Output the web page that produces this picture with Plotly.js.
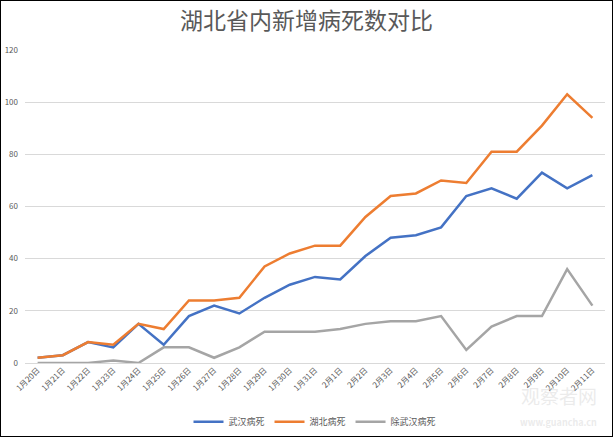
<!DOCTYPE html>
<html>
<head>
<meta charset="utf-8">
<script src="https://cdn.plot.ly/plotly-3.0.1.min.js"></script>
<style>
html,body{margin:0;padding:0;background:#fff;}
#chart{width:611px;height:435px;border:1px solid #000;}
</style>
</head>
<body>
<div id="chart"></div>
<script>
const categories = ["1月20日","1月21日","1月22日","1月23日","1月24日","1月25日","1月26日","1月27日","1月28日","1月29日","1月30日","1月31日","2月1日","2月2日","2月3日","2月4日","2月5日","2月6日","2月7日","2月8日","2月9日","2月10日","2月11日"];
const wuhan = [2,3,8,6,15,7,18,22,19,25,30,33,32,41,48,49,52,64,67,63,73,67,72];
const hubei = [2,3,8,7,15,13,24,24,25,37,42,45,45,56,64,65,70,69,81,81,91,103,94];
const outsideWuhan = [0,0,0,1,0,6,6,2,6,12,12,12,13,15,16,16,18,5,14,18,18,36,22];
const seriesNames = ["武汉病死","湖北病死","除武汉病死"];
const colors = ["#4472C4","#ED7D31","#A5A5A5"];

const font = "Noto Sans CJK SC, sans-serif";
const data = [wuhan, hubei, outsideWuhan].map((ys, i) => ({
  x: categories, y: ys, type: "scatter", mode: "lines",
  name: seriesNames[i], line: {color: colors[i], width: 2.5}
}));

const layout = {
  width: 611, height: 435,
  margin: {l: 24, r: 7, t: 49, b: 73},
  paper_bgcolor: "#fff", plot_bgcolor: "#fff",
  font: {family: font, color: "#595959", size: 9},
  title: {text: "湖北省内新增病死数对比", font: {family: font, size: 23, color: "#595959"},
          x: 0.5, xanchor: "center", y: 0.955, yanchor: "middle", yref: "container"},
  xaxis: {type: "category", range: [-0.5, 22.5], tickangle: -45, showgrid: false,
          zeroline: false, showline: false, ticks: "", tickfont: {size: 8, color: "#595959"}},
  yaxis: {range: [0, 120], dtick: 20, showgrid: true, gridcolor: "#d9d9d9", gridwidth: 1,
          zeroline: true, zerolinecolor: "#d9d9d9", zerolinewidth: 1, showline: false,
          ticks: "", ticklabelstandoff: 6, tickfont: {size: 8, color: "#595959"}},
  legend: {orientation: "h", x: 0.5, xanchor: "center", y: 0.033, yanchor: "middle",
           yref: "container", font: {size: 9, color: "#595959"}, itemwidth: 30, tracegroupgap: 0},
  showlegend: true,
  annotations: [
    {text: "观察者网", xref: "paper", yref: "paper", x: 0.99, xanchor: "right",
     y: -0.105, yanchor: "middle", showarrow: false, font: {size: 19, color: "rgba(215,215,215,0.5)"}},
    {text: "<b>www.guancha.cn</b>", xref: "paper", yref: "paper", x: 0.99, xanchor: "right",
     y: -0.19, yanchor: "middle", showarrow: false, font: {size: 9, color: "rgba(215,215,215,0.5)"}}
  ]
};
Plotly.newPlot("chart", data, layout, {displayModeBar: false, responsive: false});
</script>
</body>
</html>
